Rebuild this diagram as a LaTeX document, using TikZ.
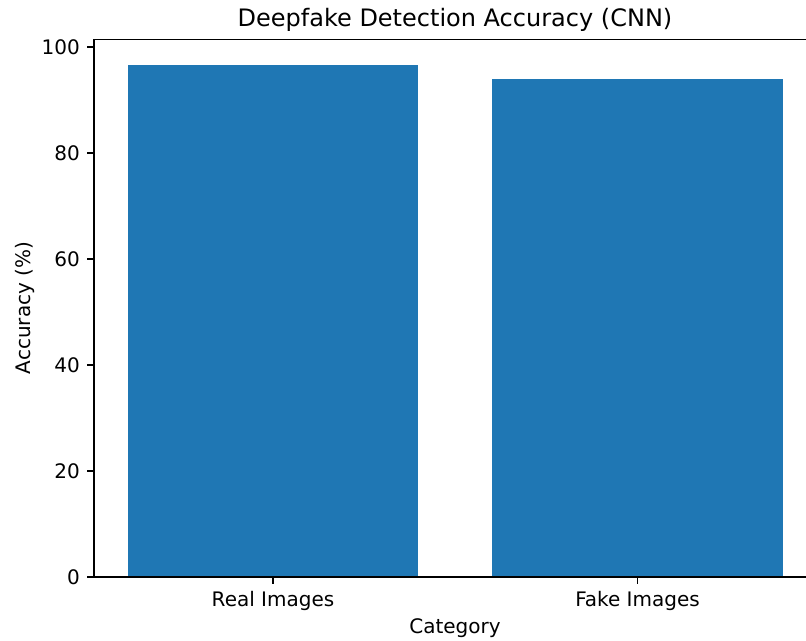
\documentclass[tikz,border=0pt]{standalone}
\usepackage{fontspec}
\setmainfont{DejaVu Sans}
\usepackage{tikz}
\usetikzlibrary{positioning}
\definecolor{barblue}{HTML}{1F77B4}
\tikzset{
    bar/.style={
           fill=barblue,
           draw=none,
           },
}
\tikzset{
    spine/.style={
           draw=black, line width=1.2pt,
           },
}
\tikzset{
    ticklab/.style={
           inner sep=0pt,
           font=\fontsize{15}{18}\selectfont,
           },
}
\begin{document}
\begin{tikzpicture}[x=0.75pt, y=-0.75pt]
\clip (0,0) rectangle (806,641);
\fill[white] (0,0) rectangle (806,641);
\fill[bar] (127.7,577) rectangle (418.3,65.5);
\fill[bar] (492.2,577) rectangle (782.8,79);
\draw[spine] (816,39.5) -- (94,39.5) -- (94,577) -- (816,577);
\draw[spine] (94,577) -- (87,577);
\draw[spine] (94,471) -- (87,471);
\draw[spine] (94,365) -- (87,365);
\draw[spine] (94,259) -- (87,259);
\draw[spine] (94,153) -- (87,153);
\draw[spine] (94,47) -- (87,47);
\draw[spine] (273,577) -- (273,584);
\draw[spine] (637.5,577) -- (637.5,584);
\node[ticklab, anchor=east] (y0) at (80,577) {0};
\node[ticklab, anchor=east] (y20) at (80,471) {20};
\node[ticklab, anchor=east] (y40) at (80,365) {40};
\node[ticklab, anchor=east] (y60) at (80,259) {60};
\node[ticklab, anchor=east] (y80) at (80,153) {80};
\node[ticklab, anchor=east] (y100) at (80,47) {100};
\node[ticklab, anchor=base] (xreal) at (273,606) {Real Images};
\node[ticklab, anchor=base] (xfake) at (637.5,606) {Fake Images};
\node[ticklab, anchor=base] (xlab) at (455,633) {Category};
\node[ticklab, anchor=base, rotate=90] (ylab) at (30,308) {Accuracy (\%)};
\node[inner sep=0pt, anchor=base, font=\fontsize{18}{22}\selectfont] (title) at (455,27) {Deepfake Detection Accuracy (CNN)};
\end{tikzpicture}
\end{document}
